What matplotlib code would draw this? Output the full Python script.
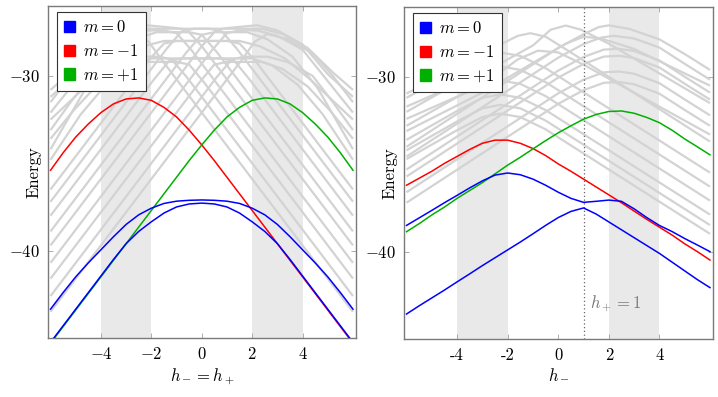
import numpy as np
import matplotlib
matplotlib.use("Agg")
from matplotlib import pyplot as plt
from matplotlib.patches import Patch

plt.rcParams['mathtext.fontset'] = 'cm'
plt.rcParams['font.family'] = ['cmr10', 'DejaVu Sans']
plt.rcParams['axes.unicode_minus'] = False

# ---------------- data ----------------
# colored curves, sampled every 0.5 in h from -6 to 6
h_grid = np.arange(-6, 6.01, 0.5)

# left panel (h- = h+), symmetric about h = 0
left_m0_upper = [-43.35, -42.4, -41.5, -40.7, -39.95, -39.2, -38.5, -37.95, -37.57, -37.3, -37.17, -37.12, -37.1,
                 -37.12, -37.17, -37.3, -37.57, -37.95, -38.5, -39.2, -39.95, -40.7, -41.5, -42.4, -43.35]
left_m0_lower = [-45.25, -44.3, -43.35, -42.4, -41.45, -40.5, -39.6, -38.9, -38.35, -37.85, -37.5, -37.33, -37.28,
                 -37.33, -37.5, -37.85, -38.35, -38.9, -39.6, -40.5, -41.45, -42.4, -43.35, -44.3, -45.25]
left_m_minus = [-35.4, -34.4, -33.5, -32.75, -32.1, -31.6, -31.32, -31.26, -31.4, -31.8, -32.35, -33.1, -33.95,
                -34.85, -35.8, -36.75, -37.7, -38.65, -39.6, -40.55, -41.5, -42.45, -43.4, -44.35, -45.3]
left_m_plus = [-45.3, -44.35, -43.4, -42.45, -41.5, -40.55, -39.6, -38.65, -37.7, -36.75, -35.8, -34.85, -33.95,
               -33.1, -32.35, -31.8, -31.4, -31.26, -31.32, -31.6, -32.1, -32.75, -33.5, -34.4, -35.4]

# right panel (h+ = 1)
right_m0_upper = [-38.5, -38.07, -37.64, -37.2, -36.78, -36.35, -35.95, -35.62, -35.5, -35.6, -35.85, -36.2, -36.6,
                  -36.95, -37.18, -37.12, -37.05, -37.12, -37.55, -38.05, -38.5, -38.85, -39.25, -39.62, -40.0]
right_m0_lower = [-43.57, -43.1, -42.65, -42.2, -41.73, -41.27, -40.8, -40.35, -39.9, -39.45, -38.98, -38.5, -38.05,
                  -37.7, -37.5, -37.85, -38.3, -38.75, -39.2, -39.65, -40.1, -40.6, -41.1, -41.6, -42.06]
right_m_minus = [-36.2, -35.8, -35.4, -34.95, -34.55, -34.15, -33.8, -33.62, -33.62, -33.8, -34.1, -34.5, -34.98,
                 -35.4, -35.85, -36.3, -36.75, -37.2, -37.68, -38.15, -38.6, -39.05, -39.55, -40.0, -40.48]
right_m_plus = [-38.86, -38.4, -37.9, -37.45, -36.95, -36.5, -36.05, -35.55, -35.05, -34.6, -34.12, -33.65, -33.2,
                -32.8, -32.42, -32.15, -31.98, -31.95, -32.08, -32.32, -32.62, -33.05, -33.55, -34.0, -34.46]

# other states (gray), as (h, E) polylines
# left panel: each curve also appears mirrored about h = 0
left_gray = [
    ([-6, 1.6, 2.1, 2.6, 3.4, 4.4, 5.2, 6], [-43.5, -29.06, -28.05, -27.6, -27.9, -28.7, -30.0, -31.5]),
    ([-6, 0.6, 1.2, 1.7, 2.6, 3.4, 4.4, 5.2, 6], [-42.6, -30.06, -29.05, -28.9, -28.9, -29.2, -30.0, -31.5, -33.1]),
    ([-6, -0.1, 0.5, 1.0, 2.4, 3.2, 4.2, 5.1, 6], [-41.6, -30.39, -29.35, -29.2, -29.2, -29.6, -30.6, -32.0, -33.6]),
    ([-6, 0.4, 1.0, 1.5, 2.2, 3.0, 4.0, 5.0, 6], [-40.7, -28.54, -27.55, -27.4, -27.4, -27.7, -28.5, -30.3, -32.1]),
    ([-6, 0, 0.6, 1.1, 2.2, 3, 4, 5, 6], [-39.7, -28.3, -27.35, -27.25, -27.1, -27.4, -28.2, -29.9, -31.2]),
    ([-6, -0.6, 0, 0.5, 1.8, 2.6, 3.6, 4.6, 6], [-38.9, -28.64, -27.65, -27.5, -27.5, -27.9, -28.9, -30.7, -34.2]),
    ([-6, -1.9, -1.3, -0.8, 2.0, 2.8, 3.8, 4.8, 6], [-38.0, -30.21, -29.15, -29.0, -29.0, -29.4, -30.5, -32.2, -34.8]),
    ([-6, -1.4, -0.8, -0.3, 2.4, 3.2, 4.2, 5.2, 6], [-37.2, -28.46, -27.45, -27.3, -27.3, -27.6, -28.4, -29.8, -30.8]),
    ([-6, -2.1, -1.5, -1.0, 1.5, 2.3, 3.3, 4.3, 6], [-36.5, -29.09, -28.15, -28.0, -28.0, -28.3, -29.0, -30.2, -32.5]),
]

# right panel: curves shaped like the m = -1 branch (peak near h = -2.3)
right_gray_a = [
    ([-6, -4, -3, -2.3, -1.5, -0.5, 6], [-34.7, -33.05, -32.3, -32.1, -32.3, -33.0, -38.98]),
    ([-6, -4, -3, -2.3, -1.5, -0.5, 6], [-34.2, -32.55, -31.8, -31.6, -31.8, -32.5, -38.48]),
    ([-6, -4, -3, -2.3, -1.5, -0.5, 6], [-33.6, -31.95, -31.2, -31.0, -31.2, -31.9, -37.88]),
    ([-6, -4, -3, -2.3, -1.5, -0.5, 6], [-32.8, -31.15, -30.4, -30.2, -30.4, -31.1, -37.08]),
    ([-6, -4, -3, -2.3, -1.5, -0.5, 6], [-32.0, -30.35, -29.6, -29.4, -29.6, -30.3, -36.28]),
    ([-6, -4, -3, -2.3, -1.5, -0.5, 6], [-31.2, -29.55, -28.8, -28.6, -28.8, -29.5, -35.48]),
]
# right panel: curves shaped like the m = +1 branch (peak near h = 2.4)
right_gray_b = [
    ([-6, 0, 1, 1.8, 2.4, 3, 4, 5, 6], [-37.2, -31.54, -30.76, -30.34, -30.29, -30.42, -30.96, -31.89, -32.8]),
    ([-6, 0, 1, 1.8, 2.4, 3, 4, 5, 6], [-36.6, -30.94, -30.16, -29.74, -29.69, -29.82, -30.36, -31.29, -32.2]),
    ([-6, 0, 1, 1.8, 2.4, 3, 4, 5, 6], [-35.7, -30.04, -29.26, -28.84, -28.79, -28.92, -29.46, -30.39, -31.3]),
    ([-6, 0, 1, 1.8, 2.4, 3, 4, 5, 6], [-35.3, -29.64, -28.86, -28.44, -28.39, -28.52, -29.06, -29.99, -30.9]),
    ([-6, 0, 1, 1.7, 2.2, 3, 4, 5, 6], [-34.56, -28.9, -28.12, -27.75, -27.65, -27.8, -28.32, -29.25, -30.16]),
    ([-6, 0, 1, 1.6, 2.0, 2.8, 4, 5, 6], [-34.0, -28.34, -27.56, -27.15, -27.05, -27.25, -27.85, -28.69, -29.6]),
]
# right panel: curves peaking in the middle
right_gray_c = [
    ([-6, -4, -2.5, -1.6, -1.1, -0.5, 0.5, 6], [-30.95, -29.5, -28.3, -27.65, -27.5, -27.7, -28.6, -33.7]),
    ([-6, -3, -1, -0.3, 0.3, 0.9, 2, 6], [-31.7, -29.8, -28.2, -27.3, -27.06, -27.3, -28.1, -31.5]),
    ([-6, -3, -1, 0.3, 1.0, 1.7, 3, 6], [-33.1, -30.9, -29.2, -28.1, -27.7, -27.8, -28.4, -30.5]),
    ([-6, -3, -1.6, -0.8, 0, 1, 6], [-32.4, -30.5, -29.0, -28.5, -28.6, -29.3, -33.3]),
]

bands = [(-4, -2), (2, 4)]
yticks = [-30, -40]
xticks = [-4, -2, 0, 2, 4]

BLUE = '#0000ff'
RED = '#ff0000'
GREEN = '#00b000'
GRAY = '#d3d3d3'


def style_axes(ax, xticklabels):
    """Axis limits, shaded bands, ticks and frame in the pgfplots look."""
    ax.set_xlim(-6.1, 6.12)
    ax.set_ylim(-45, -26)
    for lo, hi in bands:
        ax.axvspan(lo, hi, color='#e9e9e9', lw=0, zorder=0)
    ax.set_xticks(xticks)
    ax.set_xticklabels(xticklabels)
    ax.set_yticks(yticks)
    ax.set_yticklabels(['$-30$', '$-40$'])
    ax.tick_params(direction='in', length=3.5, width=0.6, color='#a0a0a0',
                   top=True, right=True, labelsize=12, pad=6)
    for s in ax.spines.values():
        s.set_color('#7a7a7a')
        s.set_linewidth(1.0)
    ax.set_ylabel('Energy', fontsize=12)
    # label sits between the two tick labels, as in the original
    ax.yaxis.set_label_coords(-0.021, 0.5)


def plot_panel(ax, gray, mirror, m0_up, m0_lo, m_minus, m_plus):
    for xs, ys in gray:
        ax.plot(xs, ys, color=GRAY, lw=1.6, zorder=1, solid_capstyle='butt')
        if mirror:
            ax.plot(-np.array(xs), ys, color=GRAY, lw=1.6, zorder=1, solid_capstyle='butt')
    ax.plot(h_grid, m_minus, color=RED, lw=1.1, zorder=3)
    ax.plot(h_grid, m_plus, color=GREEN, lw=1.1, zorder=3)
    ax.plot(h_grid, m0_up, color=BLUE, lw=1.1, zorder=4)
    ax.plot(h_grid, m0_lo, color=BLUE, lw=1.1, zorder=4)

    handles = [Patch(facecolor=BLUE, edgecolor=BLUE),
               Patch(facecolor=RED, edgecolor=RED),
               Patch(facecolor=GREEN, edgecolor=GREEN)]
    leg = ax.legend(handles, ['$m = 0$', '$m = -1$', '$m = +1$'],
                    loc='upper left', bbox_to_anchor=(0.028, 0.982),
                    fontsize=12, handlelength=0.65, handleheight=0.65,
                    handletextpad=0.5, labelspacing=0.45, borderpad=0.45,
                    borderaxespad=0, fancybox=False, framealpha=1)
    leg.get_frame().set_edgecolor('#333333')
    leg.get_frame().set_linewidth(0.8)
    leg.set_zorder(10)


fig = plt.figure(figsize=(7.18, 3.97), dpi=100)
ax1 = fig.add_axes([48 / 718, 1 - 338 / 397, 308 / 718, 332 / 397])
ax2 = fig.add_axes([404 / 718, 1 - 339 / 397, 309 / 718, 332 / 397])

plot_panel(ax1, left_gray, True, left_m0_upper, left_m0_lower, left_m_minus, left_m_plus)
style_axes(ax1, ['$%d$' % t for t in xticks])
ax1.set_xlabel('$h_- = h_+$', fontsize=12, labelpad=3)

plot_panel(ax2, right_gray_a + right_gray_b + right_gray_c, False,
           right_m0_upper, right_m0_lower, right_m_minus, right_m_plus)
style_axes(ax2, ['%d' % t for t in xticks])
ax2.set_xlabel('$h_-$', fontsize=12, labelpad=3)
ax2.axvline(1, color='#666666', lw=0.9, ls=(0, (1, 2)), zorder=2)
ax2.text(1.25, -43.0, '$h_+ = 1$', color='#777777', fontsize=12, va='center')

fig.savefig('out.png', dpi=100)
